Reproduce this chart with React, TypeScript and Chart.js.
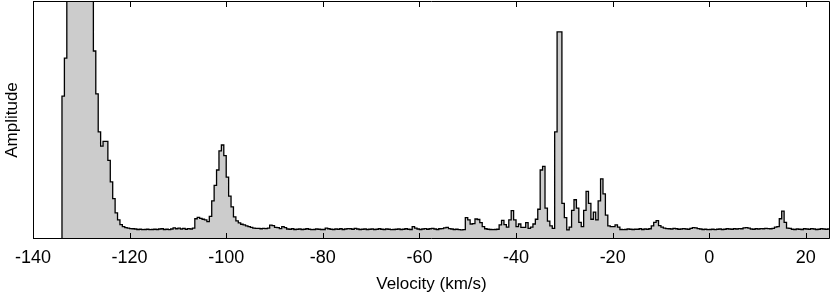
import React, { useEffect, useRef } from 'react';
import { Chart, registerables } from 'chart.js';

Chart.register(...registerables);

// Spectrum channels: left edge of first channel and channel width (km/s)
const VELOCITY_START = -135;
const CHANNEL_WIDTH = 0.5;

// Amplitude per channel, 10 channels (5 km/s) per row
const AMPLITUDE: number[] = [
  0, 0, 60, 76, 104, 118, 126, 133, 138, 141, // -135
  142, 141, 137, 130, 118, 79, 61, 45, 39, 41, // -130
  41, 33, 24, 17, 11, 8, 6, 5.2, 4.8, 4.6, // -125
  4.4, 4.3, 4.2, 4.0, 4.1, 3.9, 4.0, 4.1, 3.9, 4.0, // -120
  4.1, 4.0, 4.2, 4.3, 4.0, 4.1, 3.9, 4.2, 4.7, 4.3, // -115
  4.6, 4.2, 4.5, 4.1, 4.4, 4.2, 4.6, 8.5, 9.1, 8.7, // -110
  8.3, 8.0, 7.3, 9.5, 16, 22.5, 29, 37, 39.5, 35, // -105
  26, 18, 13.5, 9.3, 7.6, 6.8, 6.2, 5.9, 5.5, 5.2, // -100
  4.9, 4.6, 4.5, 4.5, 4.3, 4.5, 4.4, 4.6, 5.8, 5.6, // -95
  4.9, 4.8, 4.4, 5.2, 4.8, 4.2, 4.1, 4.3, 4.0, 4.1, // -90
  4.2, 4.0, 4.1, 4.3, 4.1, 3.9, 4.0, 4.2, 4.1, 4.0, // -85
  4.0, 4.6, 4.3, 4.1, 4.0, 4.2, 4.1, 4.3, 4.0, 4.2, // -80
  4.4, 4.3, 4.1, 4.5, 4.2, 4.0, 4.1, 4.2, 4.0, 4.1, // -75
  4.2, 4.0, 4.1, 4.3, 4.1, 4.0, 4.2, 4.1, 3.9, 4.0, // -70
  4.1, 4.2, 4.0, 4.1, 4.3, 4.1, 4.0, 5.2, 4.6, 4.2, // -65
  4.0, 4.2, 4.4, 4.1, 4.3, 4.5, 4.2, 4.0, 4.3, 4.4, // -60
  4.7, 4.9, 4.4, 4.2, 4.0, 4.1, 3.9, 3.8, 3.9, 9.0, // -55
  8.0, 6.3, 6.5, 8.4, 8.2, 6.9, 5.2, 4.3, 4.1, 4.0, // -50
  3.9, 4.0, 4.1, 5.9, 7.8, 6.0, 5.0, 8.0, 11.9, 8.0, // -45
  5.2, 6.3, 4.9, 4.9, 6.9, 4.5, 5.0, 6.3, 8.3, 12.5, // -40
  29, 30.5, 13, 7.5, 5.5, 4.5, 45, 87, 87, 15, // -35
  9, 3.8, 5, 12, 16.5, 13, 7, 5.2, 12, 20, // -30
  15, 8.3, 11.3, 8.0, 16, 25.3, 19, 10, 5.5, 5.2, // -25
  5.2, 5.9, 5.0, 4.0, 3.9, 4.0, 4.2, 4.1, 4.0, 4.1, // -20
  4.1, 4.3, 4.0, 4.2, 4.1, 4.3, 5.5, 7.0, 7.7, 5.6, // -15
  5.0, 4.6, 4.4, 4.3, 4.2, 4.5, 4.3, 4.1, 4.2, 4.4, // -10
  4.2, 4.1, 4.5, 4.8, 4.7, 4.4, 4.2, 4.0, 4.1, 3.9, // -5
  4.0, 4.1, 3.9, 4.1, 4.2, 4.0, 4.1, 4.3, 4.2, 4.1, // 0
  4.3, 4.2, 4.4, 4.3, 4.7, 4.8, 4.6, 4.2, 4.1, 4.3, // 5
  4.2, 4.4, 4.3, 4.5, 4.4, 4.3, 4.5, 5.0, 5.2, 8.5, // 10
  11.7, 7.0, 4.6, 4.5, 4.1, 4.0, 4.2, 4.1, 4.0, 4.3, // 15
  4.2, 4.1, 4.4, 4.2, 4.0, 4.1, 4.3, 4.2, 4.1, 4.2, // 20
];

const X_MIN = -140;
const X_MAX = 25;
const X_STEP = 20;
const Y_MIN = 0;
const Y_MAX = 100;
const X_TITLE = 'Velocity (km/s)';
const Y_TITLE = 'Amplitude';

const FONT_FAMILY = "'Liberation Sans', Arial, sans-serif";

const framePlugin = {
  id: 'frameTicks',
  afterDatasetsDraw(chart: any) {
    const { ctx, chartArea: a, scales } = chart;
    const x = scales.x;
    ctx.save();
    ctx.strokeStyle = '#000';
    ctx.lineWidth = 1;
    ctx.beginPath();
    ctx.rect(a.left + 0.5, a.top + 0.5, a.right - a.left - 1, a.bottom - a.top - 1);
    x.ticks.forEach((t: any) => {
      const px = Math.round(x.getPixelForValue(t.value)) + 0.5;
      ctx.moveTo(px, a.bottom);
      ctx.lineTo(px, a.bottom - 6);
      ctx.moveTo(px, a.top);
      ctx.lineTo(px, a.top + 6);
    });
    ctx.stroke();
    ctx.restore();
  },
};

export default function App() {
  const ref = useRef<HTMLCanvasElement | null>(null);

  useEffect(() => {
    if (!ref.current) return;
    const points = AMPLITUDE.map((a, i) => ({ x: VELOCITY_START + i * CHANNEL_WIDTH, y: a }));
    points.push({ x: VELOCITY_START + AMPLITUDE.length * CHANNEL_WIDTH, y: AMPLITUDE[AMPLITUDE.length - 1] });

    const tickFont = { family: FONT_FAMILY, size: 18 };
    const titleFont = { family: FONT_FAMILY, size: 17 };
    const chart = new Chart(ref.current, {
      type: 'line',
      data: {
        datasets: [
          {
            data: points,
            stepped: true,
            borderColor: '#000',
            borderWidth: 1.3,
            backgroundColor: 'rgb(204,204,204)',
            fill: 'origin',
            pointRadius: 0,
          },
        ],
      },
      options: {
        animation: false,
        responsive: false,
        layout: { padding: { top: 1, right: 1, left: 0, bottom: 0 } },
        plugins: { legend: { display: false }, tooltip: { enabled: false } },
        scales: {
          x: {
            type: 'linear',
            min: X_MIN,
            max: X_MAX,
            grid: { display: false, drawTicks: false },
            border: { display: false },
            ticks: {
              stepSize: X_STEP,
              includeBounds: false,
              autoSkip: false,
              maxRotation: 0,
              padding: 8,
              color: '#000',
              font: tickFont,
            },
            title: { display: true, text: X_TITLE, color: '#000', font: titleFont, padding: { top: 0, bottom: 0 } },
            afterFit: (s: any) => {
              s.height = 56;
            },
          },
          y: {
            min: Y_MIN,
            max: Y_MAX,
            grid: { display: false, drawTicks: false },
            border: { display: false },
            ticks: { display: false },
            title: { display: true, text: Y_TITLE, color: '#000', font: titleFont, padding: { top: 2, bottom: 2 } },
            afterFit: (s: any) => {
              s.width = 33;
            },
          },
        },
      },
      plugins: [framePlugin],
    } as any);
    return () => chart.destroy();
  }, []);

  return (
    <div style={{ position: 'absolute', left: 0, top: 0, width: 831, height: 295, background: '#fff' }}>
      <canvas ref={ref} width={831} height={295} style={{ display: 'block', width: 831, height: 295 }} />
    </div>
  );
}
